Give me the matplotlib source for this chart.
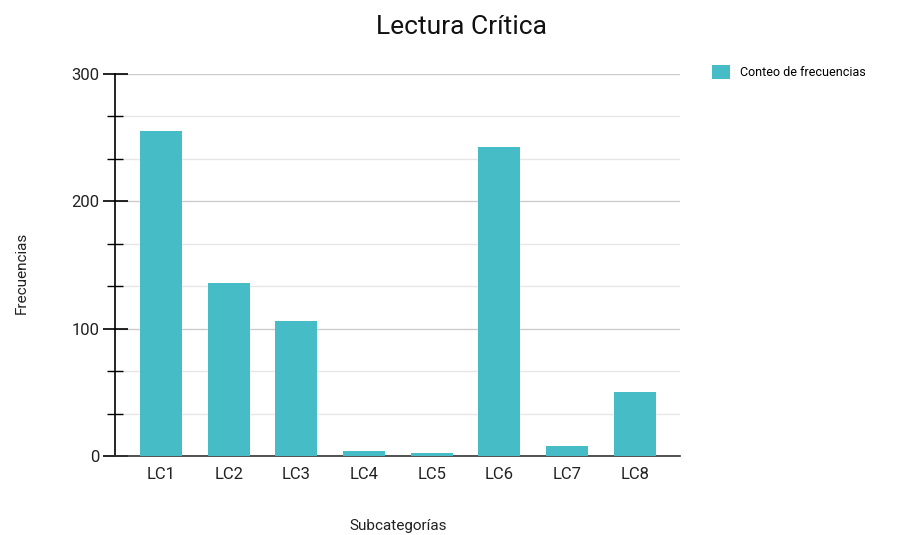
import matplotlib
matplotlib.use("Agg")
import matplotlib.pyplot as plt
from matplotlib.ticker import MultipleLocator

plt.rcParams['font.family'] = ['Roboto', 'DejaVu Sans']

categories = ["LC1", "LC2", "LC3", "LC4", "LC5", "LC6", "LC7", "LC8"]
counts = [255, 136, 106, 4, 2, 243, 8, 50]

BAR = "#46bcc6"

fig = plt.figure(figsize=(9.13, 5.35), dpi=100)
ax = fig.add_axes([0.126, 0.1477, 0.619, 0.714])

x = range(len(categories))
bars = ax.bar(x, counts, width=0.62, color=BAR, label="Conteo de frecuencias", zorder=3)

ax.set_xlim(-0.68, 7.67)
ax.set_ylim(0, 300)
ax.set_xticks(list(x))
ax.set_xticklabels(categories, fontsize=12, color="#222222")
ax.yaxis.set_major_locator(MultipleLocator(100))
ax.yaxis.set_minor_locator(MultipleLocator(100 / 3))
ax.tick_params(axis="y", which="major", direction="inout", length=18, width=1.2,
               labelsize=12, labelcolor="#222222", pad=2)
ax.tick_params(axis="y", which="minor", direction="inout", length=12, width=1.0)
ax.tick_params(axis="x", length=0, pad=8)

ax.grid(axis="y", which="major", color="#cccccc", linewidth=1, zorder=0)
ax.grid(axis="y", which="minor", color="#e6e6e6", linewidth=1, zorder=0)

for s in ["top", "right"]:
    ax.spines[s].set_visible(False)
ax.spines["left"].set_linewidth(1.2)
ax.spines["bottom"].set_linewidth(1.2)
ax.spines["bottom"].set_color("#333333")

fig.text(0.506, 0.95, "Lectura Crítica", ha="center", va="center", fontsize=19, color="#111111")
fig.text(0.024, 0.49, "Frecuencias", rotation=90, ha="center", va="center", fontsize=11, color="#222222")
fig.text(0.436, 0.017, "Subcategorías", ha="center", va="center", fontsize=11, color="#222222")

fig.legend(handles=[bars], labels=["Conteo de frecuencias"], loc="upper left",
           bbox_to_anchor=(0.768, 0.9), frameon=False, fontsize=9,
           handlelength=1.4, handleheight=1.4, handletextpad=0.8)

fig.savefig("out.png", dpi=100)
